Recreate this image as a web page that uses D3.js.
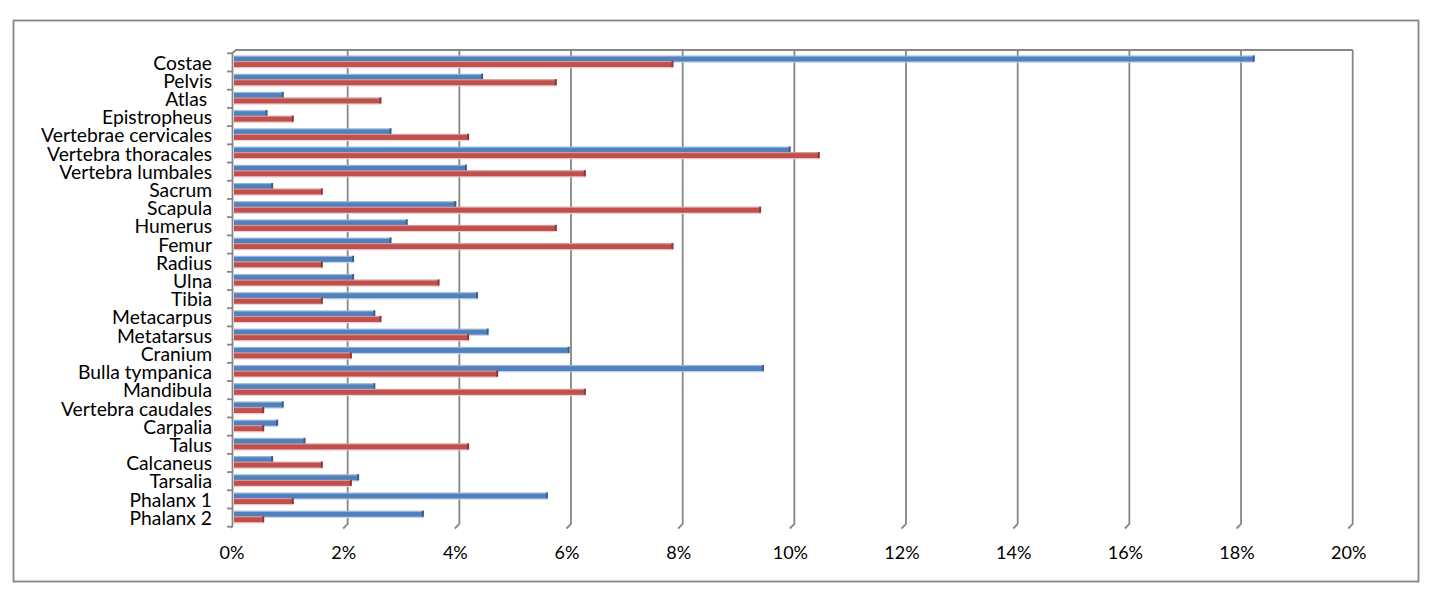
<!DOCTYPE html>
<html>
<head>
<meta charset="utf-8">
<script src="https://cdn.jsdelivr.net/npm/d3@7"></script>
<style>
  body { margin: 0; background: #fff; }
  svg { display: block; }
  .cat text { white-space: pre; }
</style>
</head>
<body>
<div id="chart"></div>
<script>
// Bone elements and their share (%) in the two samples
const categories = ["Costae", "Pelvis", "Atlas ", "Epistropheus", "Vertebrae cervicales",
  "Vertebra thoracales", "Vertebra lumbales", "Sacrum", "Scapula", "Humerus", "Femur",
  "Radius", "Ulna", "Tibia", "Metacarpus", "Metatarsus", "Cranium", "Bulla tympanica",
  "Mandibula", "Vertebra caudales", "Carpalia", "Talus", "Calcaneus", "Tarsalia",
  "Phalanx 1", "Phalanx 2"];
const blueValues = [18.26, 4.44, 0.87, 0.58, 2.80, 9.95, 4.15, 0.68, 3.96, 3.09, 2.80,
  2.13, 2.13, 4.35, 2.51, 4.54, 5.99, 9.47, 2.51, 0.87, 0.77, 1.26, 0.68, 2.22, 5.60, 3.38];
const redValues = [7.85, 5.76, 2.62, 1.05, 4.19, 10.47, 6.28, 1.57, 9.42, 5.76, 7.85,
  1.57, 3.66, 1.57, 2.62, 4.19, 2.09, 4.71, 6.28, 0.52, 0.52, 4.19, 1.57, 2.09, 1.05, 0.52];
const xTicks = [0, 2, 4, 6, 8, 10, 12, 14, 16, 18, 20];

const width = 1435, height = 601;
const fontFamily = "Lato, 'Open Sans', sans-serif";
const lineColor = "#868686";

const svg = d3.select("#chart").append("svg")
    .attr("width", width)
    .attr("height", height);

svg.append("rect").attr("width", width).attr("height", height).attr("fill", "#fff");

// outer chart border
svg.append("rect")
    .attr("x", 13.5).attr("y", 20.5)
    .attr("width", 1405).attr("height", 561)
    .attr("fill", "none")
    .attr("stroke", lineColor)
    .attr("stroke-width", 1.8);

// scales: bars sit between the back wall and the front edge
const x = d3.scaleLinear().domain([0, 20]).range([234, 1350.7]);
const backDx = 2, frontDx = -2.5;
const topY = 50, wallBottom = 524;

const y = d3.scaleBand().domain(categories).range([53.3, 526.7]).padding(0);
const bw = y.bandwidth();

const grid = svg.append("g").attr("class", "grid");

// top edge of the box
grid.append("line")
    .attr("x1", x(0) + backDx - 0.5).attr("x2", x(20) + backDx)
    .attr("y1", topY).attr("y2", topY)
    .attr("stroke", lineColor).attr("stroke-width", 1.8);

// vertical gridlines with the little floor leg
grid.selectAll("path.gl")
    .data(xTicks.filter(d => d > 0))
    .join("path")
    .attr("class", "gl")
    .attr("d", d => {
        const xb = x(d) + backDx;
        return `M${xb},${topY} L${xb},${wallBottom} L${x(d) + frontDx},${wallBottom + 4.5}`;
    })
    .attr("fill", "none")
    .attr("stroke", lineColor)
    .attr("stroke-width", 1.8);

// left (category) axis line
grid.append("path")
    .attr("d", `M${x(0) + backDx},${topY} L${x(0) - 1.5},${topY + 3} L${x(0) - 1.5},${wallBottom + 2} L${x(0) - 3},${wallBottom + 4}`)
    .attr("fill", "none")
    .attr("stroke", lineColor)
    .attr("stroke-width", 1.8);

// category boundary ticks
grid.selectAll("line.tk")
    .data(d3.range(categories.length + 1))
    .join("line")
    .attr("class", "tk")
    .attr("x1", 227).attr("x2", x(0) - 1.5)
    .attr("y1", i => y.range()[0] + i * bw)
    .attr("y2", i => y.range()[0] + i * bw)
    .attr("stroke", lineColor)
    .attr("stroke-width", 1.8);

// bars
const series = [
    { values: blueValues, dy: 2.8, front: "#4f81bd", topFace: "#97b4d9", end: "#385d8a", shade: "#c9d6e8" },
    { values: redValues, dy: 8.3, front: "#c0504d", topFace: "#d99694", end: "#8a3836", shade: "#eed0cf" }
];
const barH = 5.5;

series.forEach(s => {
    const g = svg.append("g");
    const rows = g.selectAll("g")
        .data(categories.map((c, i) => ({ c, v: s.values[i] })))
        .join("g");

    // faint shadow under bar
    rows.append("rect")
        .attr("x", x(0))
        .attr("y", d => y(d.c) + s.dy + barH)
        .attr("width", d => x(d.v) - x(0) + 1)
        .attr("height", 1.2)
        .attr("fill", s.shade);

    rows.append("rect")
        .attr("x", x(0))
        .attr("y", d => y(d.c) + s.dy)
        .attr("width", d => x(d.v) - x(0))
        .attr("height", barH)
        .attr("fill", s.front);

    // top face
    rows.append("rect")
        .attr("x", x(0))
        .attr("y", d => y(d.c) + s.dy - 0.6)
        .attr("width", d => x(d.v) - x(0) + 1)
        .attr("height", 1.2)
        .attr("fill", s.topFace);

    // end face
    rows.append("rect")
        .attr("x", d => x(d.v) - 0.8)
        .attr("y", d => y(d.c) + s.dy - 0.6)
        .attr("width", 2)
        .attr("height", barH + 0.6)
        .attr("fill", s.end);
});

// category labels
const yAxis = svg.append("g")
    .attr("class", "cat")
    .attr("transform", "translate(212,1)")
    .call(d3.axisLeft(y).tickSize(0).tickPadding(0))
    .attr("font-family", fontFamily)
    .attr("font-size", 19.3);
yAxis.select(".domain").remove();
yAxis.selectAll("text").attr("fill", "#000");

// percentage labels (front edge)
const xAxis = svg.append("g")
    .attr("transform", "translate(0,546)")
    .call(d3.axisBottom(d3.scaleLinear().domain([0, 20]).range([x(0) + frontDx, x(20) + frontDx]))
        .tickValues(xTicks)
        .tickFormat(d => d + "%")
        .tickSize(0)
        .tickPadding(0))
    .attr("font-family", fontFamily)
    .attr("font-size", 18);
xAxis.select(".domain").remove();
xAxis.selectAll("text").attr("fill", "#000");
</script>
</body>
</html>
